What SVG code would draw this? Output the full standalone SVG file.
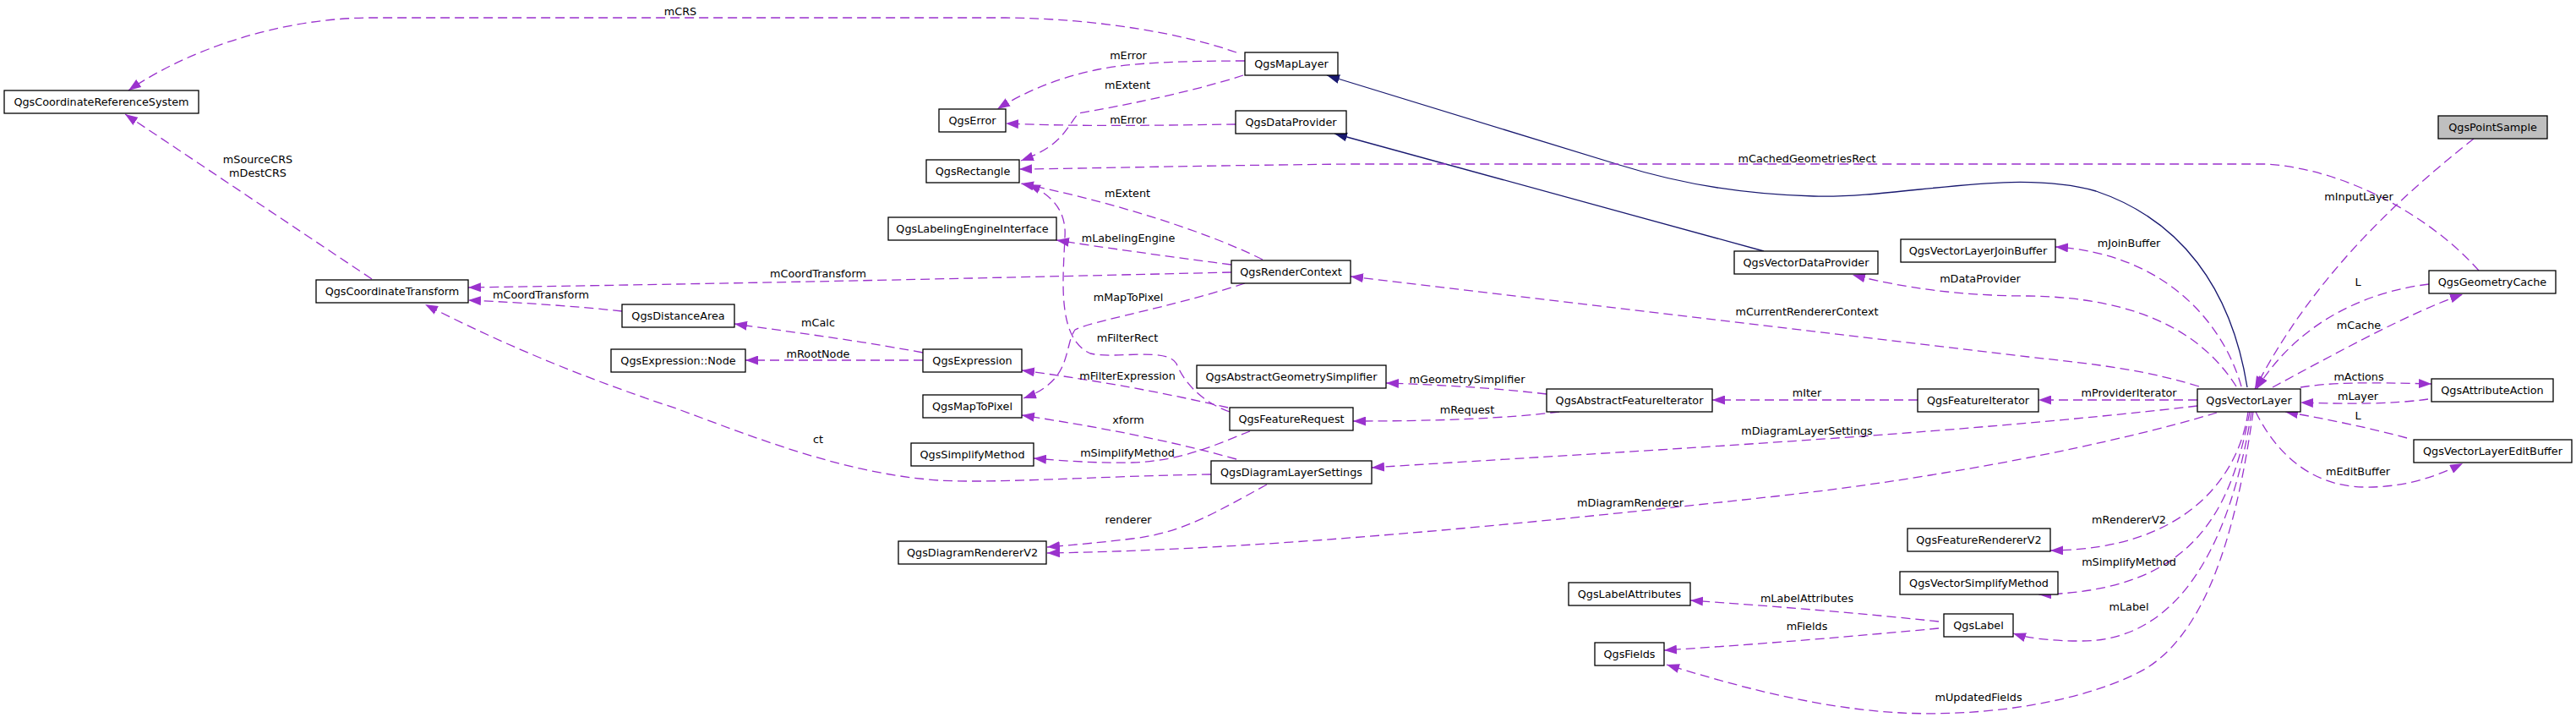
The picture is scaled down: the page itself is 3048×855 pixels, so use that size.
<svg xmlns="http://www.w3.org/2000/svg" width="3048" height="855" viewBox="0 0 3048 855">
<style>
text{font-family:"DejaVu Sans","Liberation Sans",sans-serif;font-size:12.8px;fill:#000}
.n rect{fill:#fff;stroke:#000;stroke-width:1.3}
.n text{text-anchor:middle}
.e path{fill:none;stroke:#9a32cd;stroke-width:1.3;stroke-dasharray:11,6;marker-end:url(#ap)}
.e path.inh{stroke:#191970;stroke-dasharray:none;marker-end:url(#ab)}
.l text{text-anchor:middle}
</style>
<defs>
<marker id="ap" markerUnits="userSpaceOnUse" markerWidth="15" markerHeight="11" viewBox="0 0 15 11" refX="15" refY="5.5" orient="auto"><path d="M0,0 L15,5.5 L0,11 z" fill="#9a32cd"/></marker>
<marker id="ab" markerUnits="userSpaceOnUse" markerWidth="15" markerHeight="11" viewBox="0 0 15 11" refX="15" refY="5.5" orient="auto"><path d="M0,0 L15,5.5 L0,11 z" fill="#191970"/></marker>
</defs>
<rect width="3048" height="855" fill="#fff"/>
<g id="connectors" class="e">
<path class="inh" d="M2659,458 C2640,340 2580,260 2480,226 C2380,198 2250,235 2146,232 C2060,230 1980,215 1916,195 L1570,89"/>
<path class="inh" d="M2087,297 L1579,158"/>
<path d="M1463,62 C1400,40 1300,22 1190,21 L440,21 C330,21 220,60 152,107"/>
<path d="M1473,72 C1400,72 1340,74 1300,82 C1250,92 1210,110 1180,129"/>
<path d="M1471,89 C1400,112 1310,128 1276,134 C1262,150 1258,172 1208,190"/>
<path d="M1462,147 C1380,148 1280,150 1190,146"/>
<path d="M2933,320 C2880,260 2780,200 2681,194 L1600,194 C1400,196 1300,199 1206,200"/>
<path d="M2927,164 C2850,225 2740,320 2668,460"/>
<path d="M2874,336 C2800,345 2720,380 2670,460"/>
<path d="M2689,458 C2760,420 2850,370 2914,348"/>
<path d="M2722,458 C2760,452 2800,452 2877,454"/>
<path d="M2873,472 C2830,478 2780,478 2722,476"/>
<path d="M2848,518 C2800,505 2750,495 2704,487"/>
<path d="M2669,487 C2690,530 2730,575 2797,576 C2850,577 2890,560 2914,548"/>
<path d="M2600,473 L2412,473"/>
<path d="M2652,457 C2630,380 2560,300 2432,292"/>
<path d="M2646,457 C2610,400 2540,352 2400,350 C2320,350 2250,340 2192,325"/>
<path d="M2602,457 C2530,435 2470,430 2400,422 L1598,327"/>
<path d="M2600,480 C2300,515 1900,535 1623,553"/>
<path d="M2623,488 C2500,525 2300,565 2100,587 C1800,620 1500,650 1239,654"/>
<path d="M2660,487 C2650,560 2590,650 2426,651"/>
<path d="M2662,487 C2640,600 2600,700 2412,703"/>
<path d="M2664,487 C2640,640 2580,760 2460,758 C2430,758 2400,755 2382,749"/>
<path d="M2666,487 C2650,600 2620,740 2540,790 C2470,830 2350,848 2250,843 C2150,838 2050,810 1972,786"/>
<path d="M1494,307 C1420,270 1300,235 1208,217"/>
<path d="M1457,313 C1380,303 1300,292 1250,284"/>
<path d="M1457,322 C1200,328 900,335 554,340"/>
<path d="M1473,335 C1380,365 1290,380 1272,390 C1258,410 1270,450 1211,471"/>
<path d="M1455,487 C1420,475 1400,450 1392,430 C1380,410 1320,425 1290,418 C1250,400 1258,330 1260,280 C1262,250 1245,230 1216,218"/>
<path d="M440,330 L148,135"/>
<path d="M736,368 C680,362 620,358 554,355"/>
<path d="M1433,561 C1300,563 1180,572 1110,568 C1000,560 900,520 800,483 C700,450 600,410 503,360"/>
<path d="M1092,417 C1000,400 930,392 869,383"/>
<path d="M1092,426 L882,426"/>
<path d="M1453,482 C1380,465 1300,450 1209,438"/>
<path d="M1463,543 C1380,520 1300,505 1209,491"/>
<path d="M1479,510 C1440,525 1400,545 1340,547 C1300,548 1260,545 1223,542"/>
<path d="M1499,573 C1440,605 1400,630 1340,637 C1290,643 1260,645 1239,647"/>
<path d="M1830,466 C1760,458 1700,455 1640,453"/>
<path d="M1845,487 C1780,495 1700,498 1601,498"/>
<path d="M2269,473 L2026,473"/>
<path d="M2294,735 C2200,725 2100,717 2000,710"/>
<path d="M2294,743 C2200,752 2080,762 1969,769"/>
</g>
<g id="edge-labels" class="l">
<text x="805" y="17.5">mCRS</text>
<text x="1335" y="69.5">mError</text>
<text x="1334" y="104.5">mExtent</text>
<text x="1335" y="145.5">mError</text>
<text x="2138" y="191.5">mCachedGeometriesRect</text>
<text x="2791" y="236.5">mInputLayer</text>
<text x="2519" y="291.5">mJoinBuffer</text>
<text x="2790" y="337.5">L</text>
<text x="2791" y="388.5">mCache</text>
<text x="2791" y="449.5">mActions</text>
<text x="2790" y="472.5">mLayer</text>
<text x="2790" y="495.5">L</text>
<text x="2790" y="561.5">mEditBuffer</text>
<text x="2519" y="468.5">mProviderIterator</text>
<text x="2343" y="333.5">mDataProvider</text>
<text x="2138" y="372.5">mCurrentRendererContext</text>
<text x="2138" y="513.5">mDiagramLayerSettings</text>
<text x="1929" y="598.5">mDiagramRenderer</text>
<text x="2519" y="618.5">mRendererV2</text>
<text x="2519" y="668.5">mSimplifyMethod</text>
<text x="2519" y="721.5">mLabel</text>
<text x="2341" y="828.5">mUpdatedFields</text>
<text x="1334" y="232.5">mExtent</text>
<text x="1335" y="285.5">mLabelingEngine</text>
<text x="968" y="327.5">mCoordTransform</text>
<text x="1335" y="355.5">mMapToPixel</text>
<text x="1334" y="403.5">mFilterRect</text>
<text x="305" y="192.5">mSourceCRS</text>
<text x="305" y="208.5">mDestCRS</text>
<text x="640" y="352.5">mCoordTransform</text>
<text x="968" y="523.5">ct</text>
<text x="968" y="385.5">mCalc</text>
<text x="968" y="422.5">mRootNode</text>
<text x="1334" y="448.5">mFilterExpression</text>
<text x="1335" y="500.5">xform</text>
<text x="1334" y="539.5">mSimplifyMethod</text>
<text x="1335" y="618.5">renderer</text>
<text x="1736" y="452.5">mGeometrySimplifier</text>
<text x="1736" y="488.5">mRequest</text>
<text x="2138" y="468.5">mIter</text>
<text x="2138" y="711.5">mLabelAttributes</text>
<text x="2138" y="744.5">mFields</text>
</g>
<g id="QgsCoordinateReferenceSystem" class="n"><rect x="5" y="107" width="230" height="27"/><text x="120" y="125">QgsCoordinateReferenceSystem</text></g>
<g id="QgsMapLayer" class="n"><rect x="1473" y="62" width="110" height="27"/><text x="1528" y="80">QgsMapLayer</text></g>
<g id="QgsError" class="n"><rect x="1111" y="129" width="79" height="27"/><text x="1150.5" y="147">QgsError</text></g>
<g id="QgsDataProvider" class="n"><rect x="1462" y="131" width="131" height="27"/><text x="1527.5" y="149">QgsDataProvider</text></g>
<g id="QgsRectangle" class="n"><rect x="1096" y="189" width="110" height="27"/><text x="1151" y="207">QgsRectangle</text></g>
<g id="QgsLabelingEngineInterface" class="n"><rect x="1051" y="257" width="199" height="27"/><text x="1150.5" y="275">QgsLabelingEngineInterface</text></g>
<g id="QgsCoordinateTransform" class="n"><rect x="374" y="331" width="180" height="27"/><text x="464" y="349">QgsCoordinateTransform</text></g>
<g id="QgsDistanceArea" class="n"><rect x="736" y="360" width="133" height="27"/><text x="802.5" y="378">QgsDistanceArea</text></g>
<g id="QgsExpressionNode" class="n"><rect x="723" y="413" width="159" height="27"/><text x="802.5" y="431">QgsExpression::Node</text></g>
<g id="QgsExpression" class="n"><rect x="1092" y="413" width="117" height="27"/><text x="1150.5" y="431">QgsExpression</text></g>
<g id="QgsMapToPixel" class="n"><rect x="1092" y="467" width="117" height="27"/><text x="1150.5" y="485">QgsMapToPixel</text></g>
<g id="QgsSimplifyMethod" class="n"><rect x="1078" y="524" width="145" height="27"/><text x="1150.5" y="542">QgsSimplifyMethod</text></g>
<g id="QgsDiagramRendererV2" class="n"><rect x="1063" y="640" width="175" height="27"/><text x="1150.5" y="658">QgsDiagramRendererV2</text></g>
<g id="QgsRenderContext" class="n"><rect x="1457" y="308" width="141" height="27"/><text x="1527.5" y="326">QgsRenderContext</text></g>
<g id="QgsAbstractGeometrySimplifier" class="n"><rect x="1416" y="432" width="224" height="27"/><text x="1528" y="450">QgsAbstractGeometrySimplifier</text></g>
<g id="QgsFeatureRequest" class="n"><rect x="1455" y="482" width="146" height="27"/><text x="1528" y="500">QgsFeatureRequest</text></g>
<g id="QgsDiagramLayerSettings" class="n"><rect x="1433" y="545" width="190" height="27"/><text x="1528" y="563">QgsDiagramLayerSettings</text></g>
<g id="QgsVectorDataProvider" class="n"><rect x="2052" y="297" width="170" height="27"/><text x="2137" y="315">QgsVectorDataProvider</text></g>
<g id="QgsVectorLayerJoinBuffer" class="n"><rect x="2249" y="283" width="183" height="27"/><text x="2340.5" y="301">QgsVectorLayerJoinBuffer</text></g>
<g id="QgsAbstractFeatureIterator" class="n"><rect x="1830" y="460" width="196" height="27"/><text x="1928" y="478">QgsAbstractFeatureIterator</text></g>
<g id="QgsFeatureIterator" class="n"><rect x="2269" y="460" width="143" height="27"/><text x="2340.5" y="478">QgsFeatureIterator</text></g>
<g id="QgsVectorLayer" class="n"><rect x="2600" y="460" width="122" height="27"/><text x="2661" y="478">QgsVectorLayer</text></g>
<g id="QgsPointSample" class="n"><rect x="2885" y="137" width="129" height="27" style="fill:#bfbfbf"/><text x="2949.5" y="155">QgsPointSample</text></g>
<g id="QgsGeometryCache" class="n"><rect x="2874" y="320" width="150" height="27"/><text x="2949" y="338">QgsGeometryCache</text></g>
<g id="QgsAttributeAction" class="n"><rect x="2877" y="448" width="144" height="27"/><text x="2949" y="466">QgsAttributeAction</text></g>
<g id="QgsVectorLayerEditBuffer" class="n"><rect x="2856" y="520" width="187" height="27"/><text x="2949.5" y="538">QgsVectorLayerEditBuffer</text></g>
<g id="QgsFeatureRendererV2" class="n"><rect x="2257" y="625" width="169" height="27"/><text x="2341.5" y="643">QgsFeatureRendererV2</text></g>
<g id="QgsVectorSimplifyMethod" class="n"><rect x="2248" y="676" width="187" height="27"/><text x="2341.5" y="694">QgsVectorSimplifyMethod</text></g>
<g id="QgsLabelAttributes" class="n"><rect x="1856" y="689" width="144" height="27"/><text x="1928" y="707">QgsLabelAttributes</text></g>
<g id="QgsLabel" class="n"><rect x="2300" y="726" width="82" height="27"/><text x="2341" y="744">QgsLabel</text></g>
<g id="QgsFields" class="n"><rect x="1887" y="760" width="82" height="27"/><text x="1928" y="778">QgsFields</text></g>
</svg>
